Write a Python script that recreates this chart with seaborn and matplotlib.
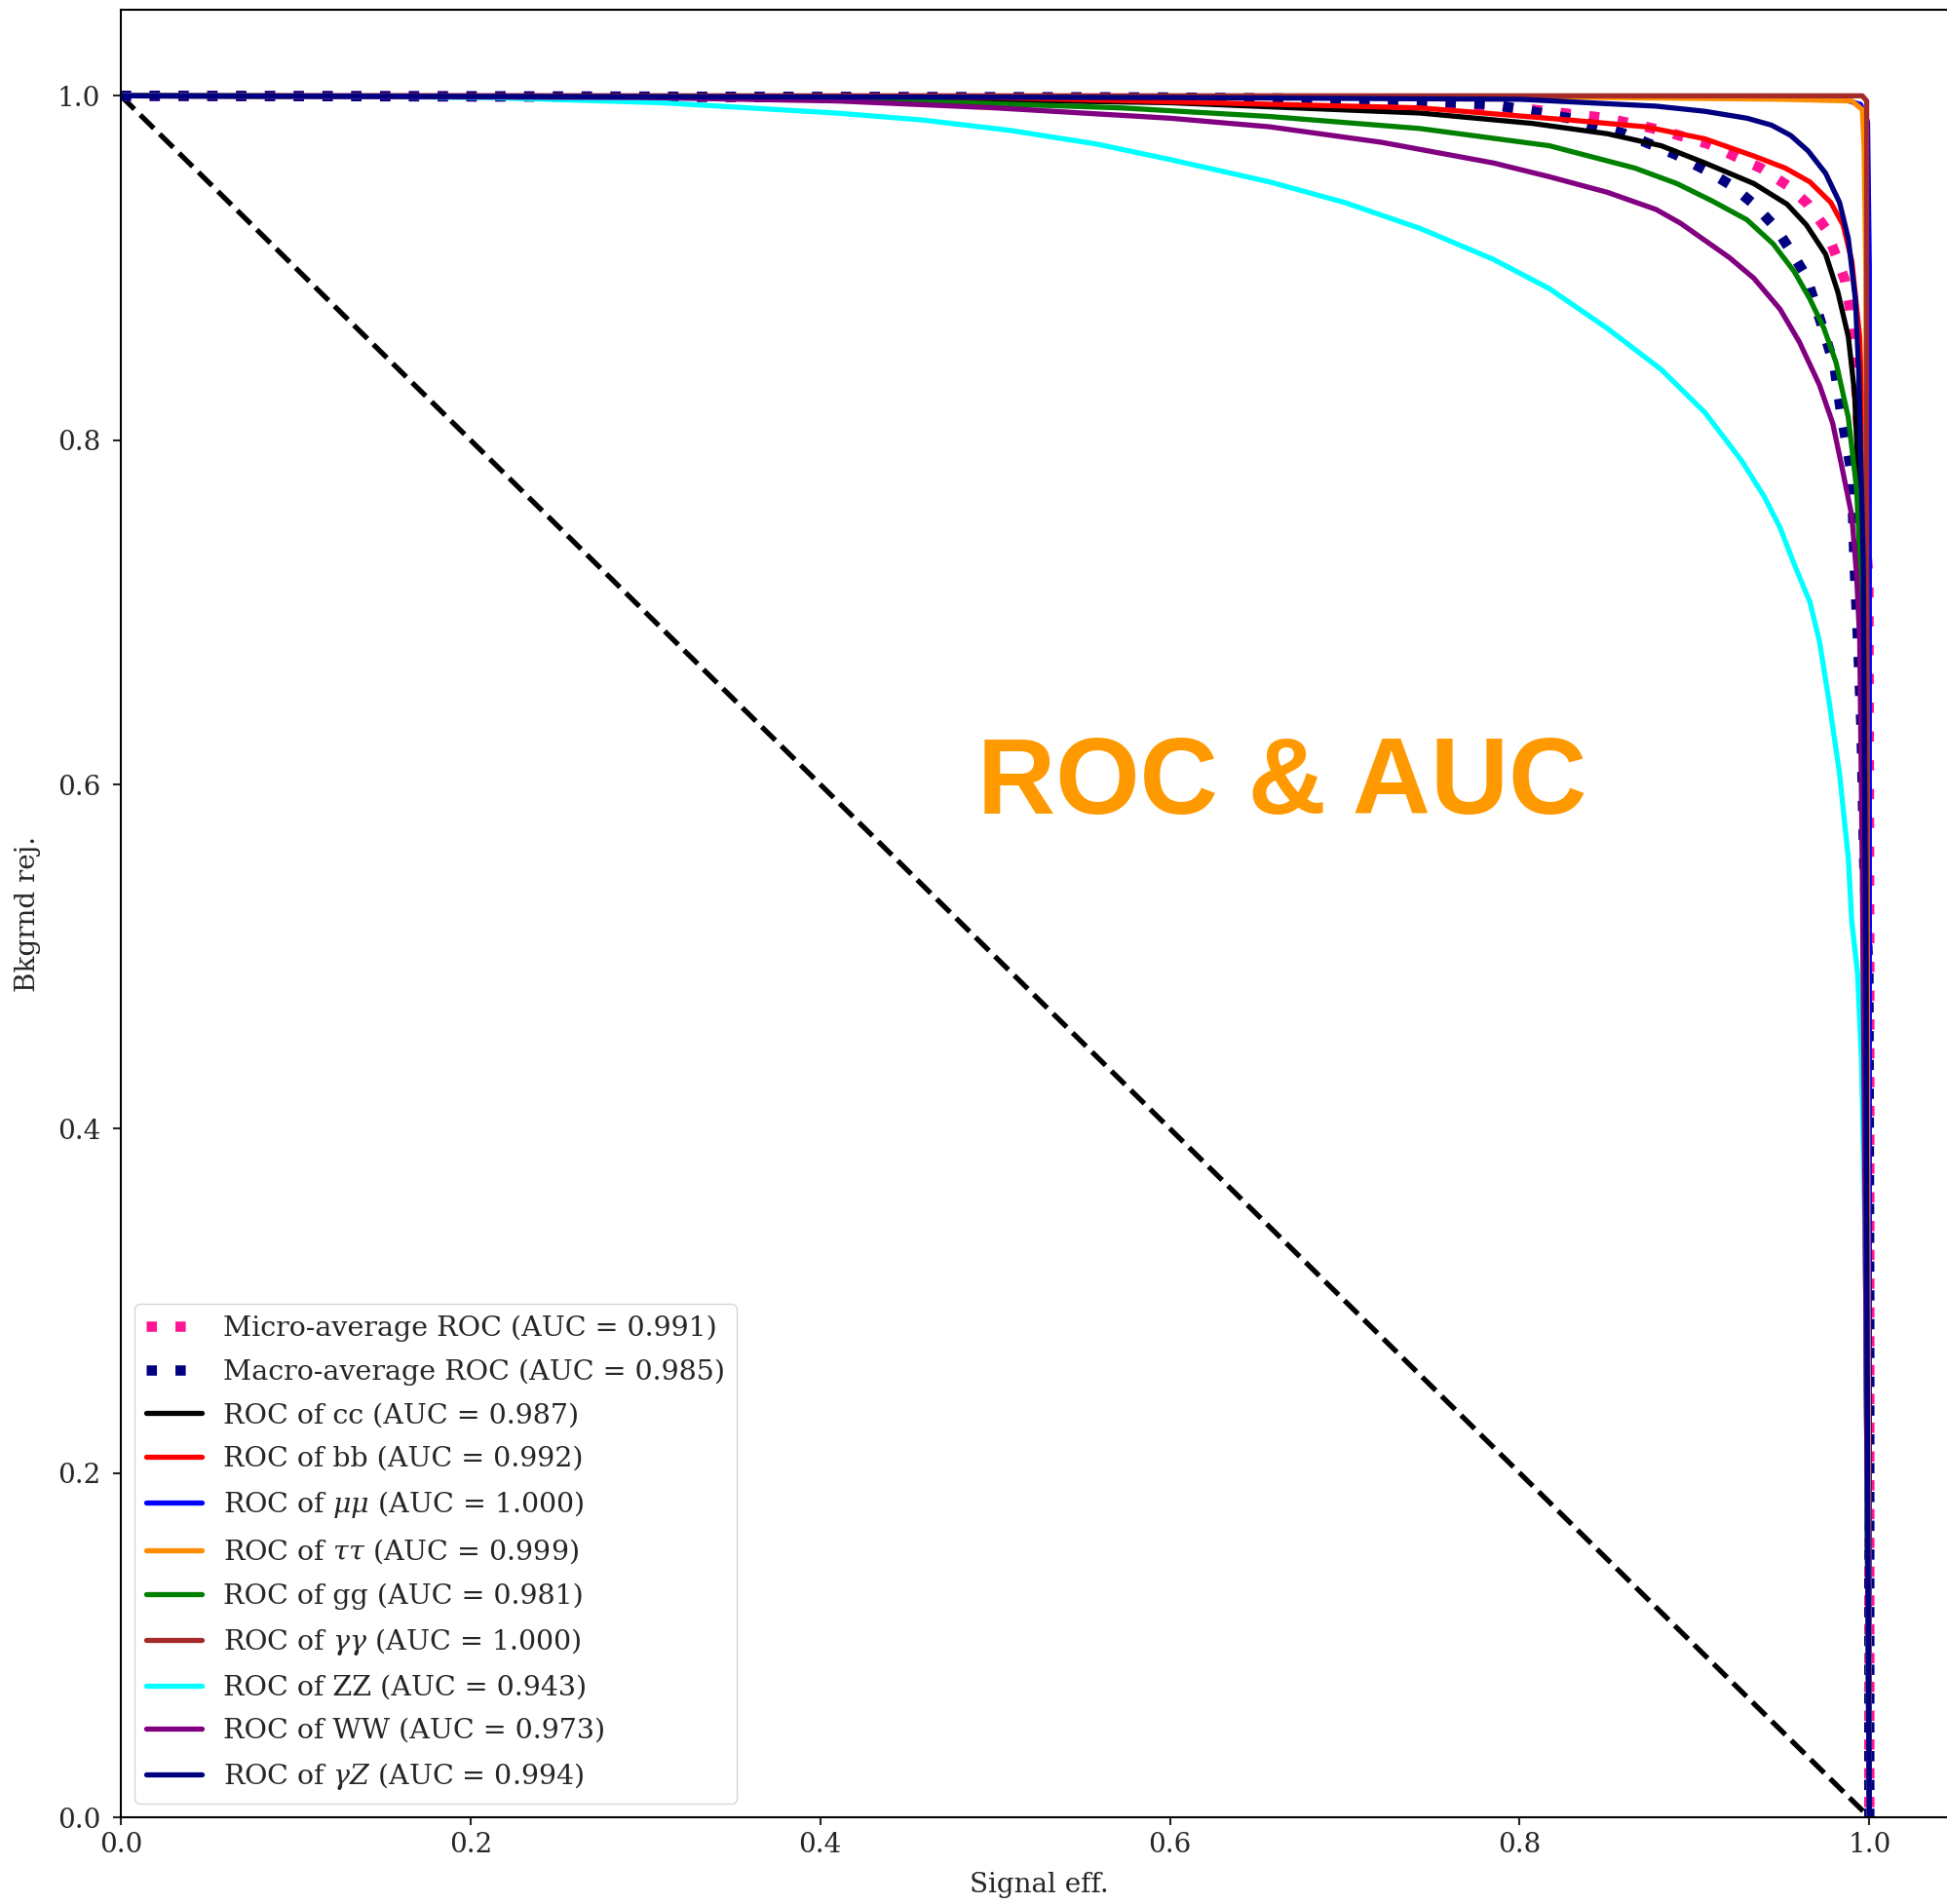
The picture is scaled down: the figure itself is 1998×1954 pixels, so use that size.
import matplotlib
matplotlib.use("Agg")
import matplotlib.pyplot as plt
import seaborn as sns

# ---------------- data (signal efficiency, background rejection) ----------------
micro_eff = [0.0, 0.6, 0.75, 0.807, 0.850, 0.881, 0.908, 0.925, 0.938, 0.953, 0.965, 0.975, 0.981, 0.986, 0.989, 0.9915, 0.9955, 0.9995, 1.0, 1.0]
micro_rej = [1.0, 0.999, 0.996, 0.992, 0.987, 0.980, 0.972, 0.964, 0.958, 0.948, 0.937, 0.923, 0.907, 0.893, 0.876, 0.850, 0.774, 0.72, 0.5, 0.0]

macro_eff = [0.0, 0.6, 0.72, 0.785, 0.828, 0.860, 0.889, 0.908, 0.921, 0.934, 0.946, 0.955, 0.964, 0.969, 0.974, 0.980, 0.984, 0.990, 0.9915, 0.9935, 0.9955, 0.997, 0.9995, 1.0, 1.0]
macro_rej = [1.0, 0.999, 0.998, 0.995, 0.987, 0.978, 0.966, 0.956, 0.948, 0.937, 0.924, 0.910, 0.895, 0.879, 0.863, 0.843, 0.815, 0.780, 0.729, 0.684, 0.633, 0.557, 0.49, 0.3, 0.0]

cc_eff = [0.0, 0.40, 0.60, 0.743, 0.807, 0.850, 0.881, 0.906, 0.934, 0.953, 0.964, 0.975, 0.982, 0.988, 0.9915, 0.9935, 0.9955, 0.997, 0.998, 1.0]
cc_rej = [1.0, 0.999, 0.996, 0.990, 0.984, 0.978, 0.971, 0.961, 0.949, 0.937, 0.925, 0.908, 0.886, 0.860, 0.828, 0.784, 0.716, 0.55, 0.3, 0.0]

bb_eff = [0.0, 0.5, 0.743, 0.828, 0.872, 0.906, 0.934, 0.952, 0.966, 0.978, 0.985, 0.990, 0.9945, 0.9965, 0.998, 0.999, 1.0]
bb_rej = [1.0, 0.999, 0.993, 0.986, 0.982, 0.975, 0.965, 0.958, 0.950, 0.938, 0.925, 0.904, 0.860, 0.800, 0.6, 0.3, 0.0]

mumu_eff = [0.0, 0.95, 0.985, 0.995, 0.999, 1.0, 1.0]
mumu_rej = [1.0, 0.9995, 0.998, 0.995, 0.985, 0.9, 0.0]

tautau_eff = [0.0, 0.8, 0.95, 0.99, 0.996, 0.997, 0.998, 1.0]
tautau_rej = [1.0, 0.9995, 0.998, 0.997, 0.992, 0.97, 0.9, 0.0]

gg_eff = [0.0, 0.3, 0.45, 0.572, 0.657, 0.743, 0.817, 0.866, 0.890, 0.910, 0.930, 0.945, 0.957, 0.966, 0.974, 0.981, 0.988, 0.9927, 0.9945, 0.996, 0.998, 1.0]
gg_rej = [1.0, 0.9995, 0.997, 0.993, 0.988, 0.981, 0.971, 0.958, 0.949, 0.939, 0.928, 0.914, 0.898, 0.882, 0.865, 0.845, 0.813, 0.772, 0.734, 0.6, 0.3, 0.0]

gamgam_eff = [0.0, 0.996, 0.9985, 0.9985, 1.0]
gamgam_rej = [1.0, 1.0, 0.997, 0.3, 0.0]

zz_eff = [0.0, 0.10, 0.21, 0.309, 0.409, 0.458, 0.508, 0.558, 0.600, 0.657, 0.700, 0.743, 0.785, 0.817, 0.850, 0.881, 0.906, 0.927, 0.940, 0.949, 0.957, 0.966, 0.9715, 0.977, 0.983, 0.988, 0.990, 0.9933, 0.9955, 0.997, 0.998, 0.999, 1.0]
zz_rej = [1.0, 0.9998, 0.999, 0.996, 0.990, 0.986, 0.980, 0.972, 0.963, 0.950, 0.938, 0.923, 0.905, 0.888, 0.865, 0.841, 0.816, 0.788, 0.767, 0.749, 0.728, 0.706, 0.683, 0.648, 0.606, 0.557, 0.52, 0.49, 0.44, 0.37, 0.30, 0.15, 0.0]

ww_eff = [0.0, 0.3, 0.41, 0.50, 0.60, 0.657, 0.721, 0.785, 0.817, 0.850, 0.878, 0.892, 0.906, 0.920, 0.934, 0.949, 0.960, 0.9715, 0.979, 0.984, 0.990, 0.9927, 0.9945, 0.996, 0.998, 1.0]
ww_rej = [1.0, 0.999, 0.997, 0.993, 0.987, 0.982, 0.973, 0.961, 0.953, 0.944, 0.934, 0.926, 0.916, 0.906, 0.894, 0.876, 0.857, 0.832, 0.810, 0.786, 0.756, 0.722, 0.684, 0.55, 0.3, 0.0]

gamz_eff = [0.0, 0.6, 0.80, 0.878, 0.906, 0.930, 0.944, 0.955, 0.965, 0.975, 0.983, 0.988, 0.992, 0.994, 0.9965, 0.998, 0.999, 1.0]
gamz_rej = [1.0, 0.999, 0.998, 0.994, 0.991, 0.987, 0.983, 0.977, 0.968, 0.955, 0.938, 0.917, 0.882, 0.839, 0.731, 0.5, 0.2, 0.0]

labels = [
    "Micro-average ROC (AUC = 0.991)",
    "Macro-average ROC (AUC = 0.985)",
    "ROC of cc (AUC = 0.987)",
    "ROC of bb (AUC = 0.992)",
    r"ROC of $\mu\mu$ (AUC = 1.000)",
    r"ROC of $\tau\tau$ (AUC = 0.999)",
    "ROC of gg (AUC = 0.981)",
    r"ROC of $\gamma\gamma$ (AUC = 1.000)",
    "ROC of ZZ (AUC = 0.943)",
    "ROC of WW (AUC = 0.973)",
    r"ROC of $\gamma Z$ (AUC = 0.994)",
]
colors = ["deeppink", "navy", "black", "red", "blue", "darkorange", "green",
          "brown", "cyan", "purple", "navy"]
dotted = (0, (1, 1.8))
styles = [dotted, dotted, "-", "-", "-", "-", "-", "-", "-", "-", "-"]

curves = [(micro_eff, micro_rej), (macro_eff, macro_rej), (cc_eff, cc_rej),
          (bb_eff, bb_rej), (mumu_eff, mumu_rej), (tautau_eff, tautau_rej),
          (gg_eff, gg_rej), (gamgam_eff, gamgam_rej), (zz_eff, zz_rej),
          (ww_eff, ww_rej), (gamz_eff, gamz_rej)]

diag_eff = [0.0, 1.0]
diag_rej = [1.0, 0.0]

x_ticks = [0.0, 0.2, 0.4, 0.6, 0.8, 1.0]
y_ticks = [0.0, 0.2, 0.4, 0.6, 0.8, 1.0]

# ---------------- style ----------------
sns.set_style("ticks")
plt.rcParams["font.family"] = ["DejaVu Serif", "DejaVu Sans"]
plt.rcParams["mathtext.fontset"] = "dejavuserif"

W, H = 1998, 1954
fig = plt.figure(figsize=(W / 100, H / 100), dpi=100)
ax_left, ax_bottom = 124, 1865
ax_w, ax_h = 1884, 1855
ax = fig.add_axes([ax_left / W, (H - ax_bottom) / H, ax_w / W, ax_h / H])

# diagonal
sns.lineplot(x=diag_eff, y=diag_rej, ax=ax, color="black", linestyle="--",
             linewidth=3.8, sort=False, estimator=None)

for (xe, yr), lab, col, ls in zip(curves, labels, colors, styles):
    lw = 7.6 if ls is dotted else 3.8
    sns.lineplot(x=xe, y=yr, ax=ax, color=col, linestyle=ls, linewidth=lw,
                 sort=False, estimator=None, label=lab)

ax.set_xlim(0.0, 1.05)
ax.set_ylim(0.0, 1.05)
ax.set_xticks(x_ticks)
ax.set_yticks(y_ticks)
ax.tick_params(axis="both", labelsize=20, length=6, width=1.5, direction="out")
ax.tick_params(axis="x", pad=5)
ax.tick_params(axis="y", pad=9)
for sp in ax.spines.values():
    sp.set_linewidth(1.5)
    sp.set_color("black")

ax.set_xlabel("Signal eff.", fontsize=20)
ax.set_ylabel("Bkgrnd rej.", fontsize=20)
ax.xaxis.set_label_coords(0.5, -0.030)
ax.yaxis.set_label_coords(-0.0435, 0.5)

leg = ax.legend(loc="lower left", fontsize=20.5, labelspacing=0.61,
                handlelength=2.0, handletextpad=0.8, borderpad=0.4,
                borderaxespad=0.5)

ax.text(0.664, 0.583, "ROC & AUC", fontsize=80, color="#ff9900",
        family="Liberation Sans", fontweight="bold", ha="center", va="baseline")

fig.savefig("out.png", dpi=100)
